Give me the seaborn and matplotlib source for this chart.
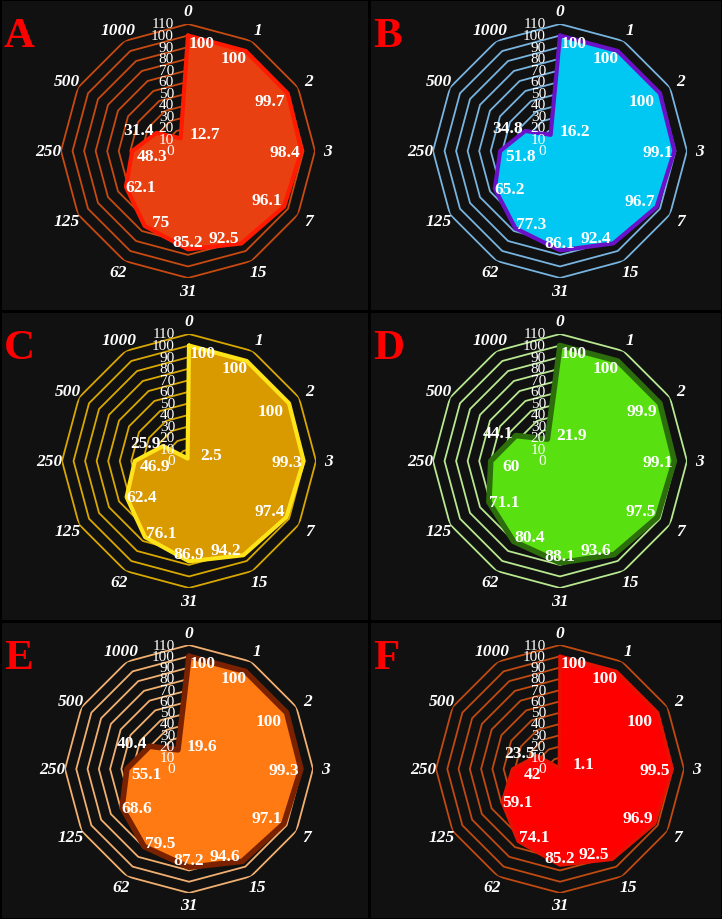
import numpy as np
import matplotlib
matplotlib.use("Agg")
import matplotlib.pyplot as plt
import seaborn as sns
from matplotlib.patches import Rectangle

# categories around the radar (clockwise from top)
categories = ["0", "1", "2", "3", "7", "15", "31", "62", "125", "250", "500", "1000"]
ring_levels = [0, 10, 20, 30, 40, 50, 60, 70, 80, 90, 100, 110]

vals_a = [100, 100, 99.7, 98.4, 96.1, 92.5, 85.2, 75, 62.1, 48.3, 31.4, 12.7]
vals_b = [100, 100, 100, 99.1, 96.7, 92.4, 86.1, 77.3, 65.2, 51.8, 34.8, 16.2]
vals_c = [100, 100, 100, 99.3, 97.4, 94.2, 86.9, 76.1, 62.4, 46.9, 25.9, 2.5]
vals_d = [100, 100, 99.9, 99.1, 97.5, 93.6, 88.1, 80.4, 71.1, 60, 44.1, 21.9]
vals_e = [100, 100, 100, 99.3, 97.1, 94.6, 87.2, 79.5, 68.6, 55.1, 40.4, 19.6]
vals_f = [100, 100, 100, 99.5, 96.9, 92.5, 85.2, 74.1, 59.1, 42, 23.5, 1.1]

letters = ["A", "B", "C", "D", "E", "F"]
all_vals = [vals_a, vals_b, vals_c, vals_d, vals_e, vals_f]

# (fill, edge, grid) per panel
styles = [
    ("#E84010", "#FF1A00", "#C84A10"),
    ("#00C8F2", "#6A12C8", "#78B4E0"),
    ("#D99A00", "#FFE41A", "#D8A800"),
    ("#58E010", "#2C6E0C", "#B8E890"),
    ("#FF7A12", "#7A2200", "#F2B070"),
    ("#FF0000", "#E81000", "#C04A10"),
]
edge_w = [3, 3, 3, 4, 4, 2.5]

# value label offsets in pixels (x right, y up), one per category
lab_off = [(14, -7), (-12, -7), (-18, -8), (-17, -1), (-17, 6), (-18, 5),
           (0, 7), (16, 4), (15, 0), (20, -5), (-18, 3), (24, 4)]

W, H = 722, 920
BG = "#111111"
sns.set_theme(style="dark", rc={"figure.facecolor": BG, "axes.facecolor": BG})
plt.rcParams["font.family"] = ["Liberation Serif", "DejaVu Serif"]

fig = plt.figure(figsize=(W / 100, H / 100), dpi=100)
fig.patch.set_facecolor(BG)

col_left = [0, 369]
row_top = [0, 312, 622]
row_h = [312, 310, 298]
centers = [(188, 152), (560, 152), (189, 462), (560, 462), (189, 770), (560, 770)]
radii = [127, 127, 127, 127, 124, 124]

n = len(categories)
theta = np.arange(n) * 2 * np.pi / n
theta_c = np.append(theta, 2 * np.pi)

for i, vals in enumerate(all_vals):
    fill_c, edge_c, grid_c = styles[i]
    cx, cy = centers[i]
    R = radii[i]
    ax = fig.add_axes([(cx - R) / W, (H - cy - R) / H, 2 * R / W, 2 * R / H],
                      projection="polar")
    ax.set_facecolor("none")
    ax.set_theta_zero_location("N")
    ax.set_theta_direction(-1)
    ax.grid(False)
    ax.spines["polar"].set_visible(False)

    # polygon grid rings
    for r in ring_levels[1:]:
        ax.plot(theta_c, [r] * (n + 1), color=grid_c, lw=1.3, zorder=1)

    v = np.array(vals, dtype=float)
    v_c = np.append(v, v[0])
    ax.fill(theta_c, v_c, color=fill_c, zorder=2, lw=0)
    sns.lineplot(x=theta_c, y=v_c, sort=False, estimator=None, color=edge_c,
                 lw=edge_w[i], ax=ax, zorder=3)
    ax.set_xlabel("")
    ax.set_ylabel("")
    ax.set_xticks([])
    ax.set_yticks([])
    ax.set_ylim(0, 110)

    # radial tick labels along the top axis
    for r in ring_levels:
        ax.annotate(str(r), xy=(0, r), xytext=(-14, 0), textcoords="offset pixels",
                    ha="right", va="center", color="white", fontsize=11, zorder=5)

    # category labels
    for t, lab in zip(theta, categories):
        ax.text(t, 121, lab, ha="center", va="center", color="white",
                fontsize=12.5, fontweight="bold", fontstyle="italic")

    # value labels
    for t, val, off in zip(theta, vals, lab_off):
        ax.annotate(f"{val:g}", xy=(t, val), xytext=off, textcoords="offset pixels",
                    ha="center", va="center", color="white", fontsize=12.5,
                    fontweight="bold", zorder=6)

    # panel letter
    px = col_left[i % 2]
    py = row_top[i // 2]
    fig.text((px + 4) / W, 1 - (py + 37) / H, letters[i], color="#FF0000",
             fontsize=31, fontweight="bold", ha="left", va="center")

# panel borders
for r in range(3):
    for c in range(2):
        x0 = col_left[c]
        x1 = col_left[1] if c == 0 else W
        y0 = row_top[r]
        y1 = y0 + row_h[r]
        fig.add_artist(Rectangle((x0 / W, 1 - y1 / H), (x1 - x0) / W, (y1 - y0) / H,
                                 transform=fig.transFigure, fill=False,
                                 edgecolor="#000000", lw=2, zorder=10))

fig.savefig("out.png", dpi=100, facecolor=BG)
